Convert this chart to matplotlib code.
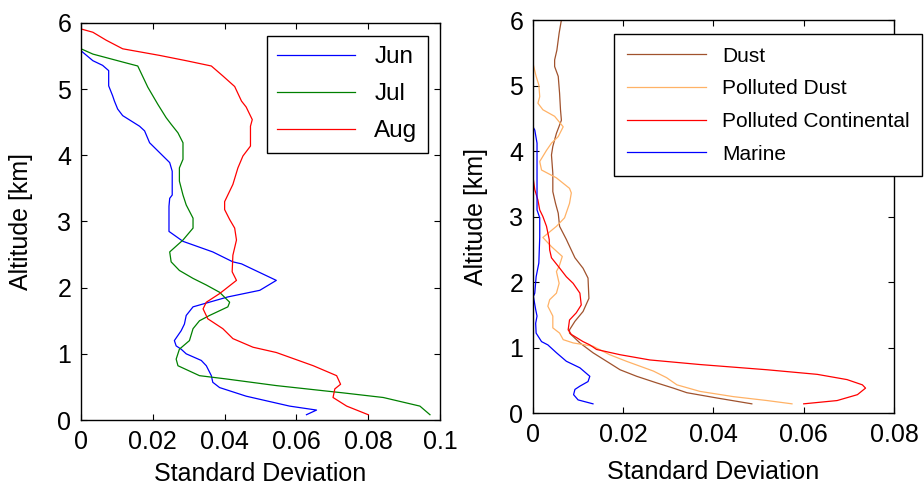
import matplotlib
matplotlib.use("Agg")
import matplotlib.pyplot as plt

plt.rcParams['font.family'] = ['Liberation Sans', 'DejaVu Sans']

# Left panel: monthly std-dev profiles
jun_x = [0, 0.0033, 0.006, 0.0077, 0.0077, 0.0088, 0.0093, 0.0102, 0.0116, 0.0163, 0.0177, 0.0191,
         0.0247, 0.0254, 0.0254, 0.0247, 0.0245, 0.0245, 0.0284, 0.0367, 0.0423, 0.0447, 0.0474,
         0.0544, 0.0498, 0.0409, 0.0312, 0.0293, 0.0288, 0.0279, 0.0260, 0.0265, 0.0279, 0.0293,
         0.0335, 0.0349, 0.0363, 0.0367, 0.0386, 0.0460, 0.0581, 0.0656, 0.0628]
jun_y = [5.58, 5.43, 5.36, 5.28, 5.05, 4.90, 4.82, 4.70, 4.60, 4.44, 4.37, 4.19,
         3.89, 3.76, 3.40, 3.35, 3.23, 2.85, 2.70, 2.54, 2.39, 2.36, 2.29,
         2.11, 1.96, 1.86, 1.71, 1.58, 1.45, 1.35, 1.20, 1.12, 1.07, 1.00,
         0.90, 0.82, 0.67, 0.57, 0.49, 0.36, 0.21, 0.15, 0.08]

jul_x = [0, 0, 0.0033, 0.0116, 0.0158, 0.0186, 0.0214, 0.0237, 0.0251, 0.0270, 0.0284, 0.0284,
         0.0274, 0.0274, 0.0284, 0.0293, 0.0312, 0.0312, 0.0284, 0.0247, 0.0251, 0.0274, 0.0312,
         0.0349, 0.0386, 0.0414, 0.0409, 0.0358, 0.0330, 0.0312, 0.0302, 0.0274, 0.0265, 0.0270,
         0.0330, 0.0405, 0.0544, 0.0730, 0.0842, 0.0944, 0.0972]
jul_y = [6.0, 5.61, 5.53, 5.41, 5.35, 5.03, 4.77, 4.57, 4.47, 4.34, 4.19, 3.94,
         3.81, 3.61, 3.40, 3.25, 3.05, 2.90, 2.72, 2.54, 2.39, 2.26, 2.14,
         2.04, 1.93, 1.78, 1.71, 1.58, 1.50, 1.38, 1.20, 1.07, 0.92, 0.82,
         0.67, 0.62, 0.52, 0.41, 0.34, 0.21, 0.08]

aug_x = [0, 0, 0.0033, 0.0070, 0.0116, 0.0219, 0.0293, 0.0363, 0.0395, 0.0428, 0.0447, 0.0460,
         0.0477, 0.0472, 0.0472, 0.0451, 0.0437, 0.0423, 0.0400, 0.0400, 0.0414, 0.0428, 0.0433,
         0.0423, 0.0421, 0.0433, 0.0386, 0.0349, 0.0340, 0.0353, 0.0395, 0.0423, 0.0479, 0.0544,
         0.0647, 0.0712, 0.0723, 0.0707, 0.0702, 0.0740, 0.0800]
aug_y = [5.99, 5.91, 5.86, 5.74, 5.61, 5.51, 5.43, 5.35, 5.20, 5.04, 4.82, 4.73,
         4.54, 4.44, 4.14, 3.99, 3.81, 3.56, 3.30, 3.18, 3.03, 2.90, 2.72,
         2.49, 2.24, 2.11, 1.91, 1.78, 1.68, 1.53, 1.38, 1.23, 1.10, 1.02,
         0.82, 0.67, 0.54, 0.47, 0.34, 0.21, 0.08]

# Right panel: aerosol type std-dev profiles
dust_x = [0.0063, 0.0058, 0.0053, 0.0048, 0.0048, 0.0056, 0.0059, 0.0061, 0.0063, 0.0052, 0.0044,
          0.0041, 0.0044, 0.0044, 0.0050, 0.0056, 0.0059, 0.0074, 0.0078, 0.0093, 0.0111, 0.0122,
          0.0124, 0.0111, 0.0093, 0.0081, 0.0081, 0.0104, 0.0133, 0.0170, 0.0193, 0.0230, 0.0274,
          0.0311, 0.0341, 0.0407, 0.0485]
dust_y = [6.0, 5.80, 5.54, 5.39, 5.29, 5.14, 4.88, 4.63, 4.47, 4.27, 4.07,
          3.94, 3.66, 3.38, 3.20, 3.05, 2.85, 2.65, 2.59, 2.37, 2.21, 2.06,
          1.75, 1.55, 1.40, 1.27, 1.22, 1.07, 0.92, 0.76, 0.66, 0.56, 0.46,
          0.38, 0.31, 0.23, 0.14]

pdust_x = [0, 0.0007, 0.0013, 0.0015, 0.0011, 0.0022, 0.0048, 0.0067, 0.0056, 0.0041, 0.0030,
           0.0015, 0.0019, 0.0052, 0.0081, 0.0085, 0.0081, 0.0070, 0.0052, 0.0022, 0.0041, 0.0065,
           0.0058, 0.0052, 0.0058, 0.0052, 0.0037, 0.0033, 0.0044, 0.0044, 0.0059, 0.0067, 0.0089,
           0.0133, 0.0170, 0.0207, 0.0267, 0.0296, 0.0319, 0.0370, 0.0444, 0.0519, 0.0574]
pdust_y = [5.34, 5.14, 5.01, 4.83, 4.73, 4.63, 4.53, 4.37, 4.22, 4.12, 4.01,
           3.84, 3.71, 3.59, 3.43, 3.36, 3.20, 2.98, 2.85, 2.68, 2.54, 2.39,
           2.24, 2.16, 1.98, 1.83, 1.73, 1.63, 1.48, 1.30, 1.22, 1.12, 1.07,
           1.02, 0.89, 0.79, 0.64, 0.54, 0.43, 0.33, 0.25, 0.19, 0.14]

pcont_x = [0, 0, 0.0004, 0.0011, 0.0015, 0.0022, 0.0030, 0.0036, 0.0037, 0.0041, 0.0056, 0.0074,
           0.0089, 0.0104, 0.0107, 0.0096, 0.0081, 0.0078, 0.0085, 0.0111, 0.0126, 0.0141, 0.0193,
           0.0259, 0.0370, 0.0519, 0.0630, 0.0696, 0.0730, 0.0737, 0.0719, 0.0674, 0.0600]
pcont_y = [4.37, 3.61, 3.41, 3.25, 3.10, 3.00, 2.85, 2.65, 2.49, 2.37, 2.24, 2.08,
           1.98, 1.83, 1.65, 1.53, 1.42, 1.27, 1.20, 1.09, 1.04, 0.97, 0.89,
           0.81, 0.74, 0.66, 0.59, 0.51, 0.43, 0.38, 0.28, 0.19, 0.14]

marine_x = [0, 0, 0.0004, 0.0009, 0.0009, 0.0015, 0.0015, 0.0013, 0.0007, 0.0004, 0.0001, 0.0006,
            0.0009, 0.0006, 0.0007, 0.0019, 0.0033, 0.0052, 0.0074, 0.0104, 0.0126, 0.0122, 0.0104,
            0.0093, 0.0090, 0.0100, 0.0133]
marine_y = [6.0, 4.37, 4.32, 4.12, 3.10, 2.98, 2.68, 2.29, 2.08, 1.83, 1.78, 1.58,
            1.48, 1.37, 1.22, 1.09, 1.04, 0.92, 0.79, 0.69, 0.56, 0.48, 0.41,
            0.36, 0.28, 0.20, 0.14]

left_xticks = [0, 0.02, 0.04, 0.06, 0.08, 0.1]
left_xlabels = ['0', '0.02', '0.04', '0.06', '0.08', '0.1']
right_xticks = [0, 0.02, 0.04, 0.06, 0.08]
right_xlabels = ['0', '0.02', '0.04', '0.06', '0.08']
yticks = [0, 1, 2, 3, 4, 5, 6]

fig = plt.figure(figsize=(9.24, 4.86), dpi=100)
ax1 = fig.add_axes([0.0877, 0.1358, 0.3885, 0.8169])
ax2 = fig.add_axes([0.5768, 0.1502, 0.3907, 0.8086])


def style(ax, xticks, xlabels, xmax):
    ax.set_xlim(0, xmax)
    ax.set_ylim(0, 6)
    ax.set_xticks(xticks)
    ax.set_xticklabels(xlabels)
    ax.set_yticks(yticks)
    ax.tick_params(direction='in', length=4, width=0.8, top=True, right=True,
                   labelsize=18, pad=7)
    for s in ax.spines.values():
        s.set_linewidth(1.0)
    ax.set_xlabel('Standard Deviation', fontsize=18)
    ax.set_ylabel('Altitude [km]', fontsize=18)


lw = 0.9
ax1.plot(jun_x, jun_y, color='#0000ff', lw=lw, label='Jun')
ax1.plot(jul_x, jul_y, color='#008000', lw=lw, label='Jul')
ax1.plot(aug_x, aug_y, color='#ff0000', lw=lw, label='Aug')
style(ax1, left_xticks, left_xlabels, 0.1)
ax1.xaxis.set_label_coords(0.5, -0.105)
ax1.yaxis.set_label_coords(-0.134, 0.5)
leg1 = ax1.legend(loc='upper left', bbox_to_anchor=(267 / 924, 1 - 36 / 486),
                  bbox_transform=fig.transFigure, borderaxespad=0, fontsize=17.5,
                  handlelength=3.2, labelspacing=0.62, borderpad=0.42, fancybox=False,
                  edgecolor='black', framealpha=1)
leg1.get_frame().set_linewidth(1.0)

ax2.plot(dust_x, dust_y, color='#a0522d', lw=lw, label='Dust')
ax2.plot(pdust_x, pdust_y, color='#ffb266', lw=lw, label='Polluted Dust')
ax2.plot(pcont_x, pcont_y, color='#ff0000', lw=lw, label='Polluted Continental')
ax2.plot(marine_x, marine_y, color='#0000ff', lw=lw, label='Marine')
style(ax2, right_xticks, right_xlabels, 0.08)
ax2.xaxis.set_label_coords(0.5, -0.12)
ax2.yaxis.set_label_coords(-0.125, 0.5)
leg2 = ax2.legend(loc='upper left', bbox_to_anchor=(614 / 924, 1 - 34 / 486),
                  bbox_transform=fig.transFigure, borderaxespad=0, fontsize=15,
                  handlelength=3.8, labelspacing=0.66, borderpad=0.6, fancybox=False,
                  edgecolor='black', framealpha=1)
leg2.get_frame().set_linewidth(1.0)

fig.savefig('out.png', dpi=100)
